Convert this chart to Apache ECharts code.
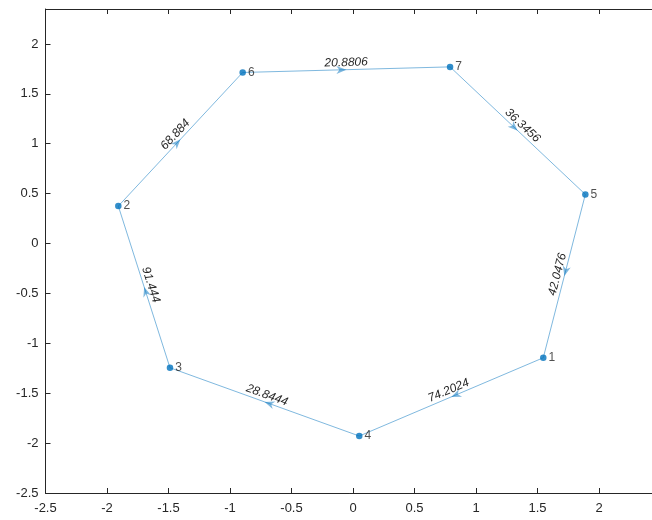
<!DOCTYPE html>
<html>
<head>
<meta charset="utf-8">
<script src="https://cdn.jsdelivr.net/npm/echarts@6/dist/echarts.min.js"></script>
<style>
  html, body { margin: 0; padding: 0; background: #fff; }
  #chart { width: 652px; height: 520px; }
</style>
</head>
<body>
<div id="chart"></div>
<script>
// Node layout of the directed weighted graph
const nodeNames = ['1', '2', '3', '4', '5', '6', '7'];
const nodeX = [1.547, -1.908, -1.488, 0.051, 1.889, -0.897, 0.789];
const nodeY = [-1.145, 0.375, -1.245, -1.929, 0.492, 1.714, 1.770];

// Directed edges (node names) and their weights
const edgeSource = ['6', '7', '5', '1', '4', '3', '2'];
const edgeTarget = ['7', '5', '1', '4', '3', '2', '6'];
const edgeWeight = [20.8806, 36.3456, 42.0476, 74.2024, 28.8444, 91.444, 68.884];

// Axis settings
const xMin = -2.5, xMax = 2.5;
const yMin = -2.5, yMax = 2.35;
const tickStep = 0.5;

const FONT = "'Liberation Sans', Arial, Helvetica, sans-serif";
const AXIS_COLOR = '#262626';
const NODE_COLOR = '#0072BD';
const EDGE_COLOR = 'rgba(0,114,189,0.5)';

const idx = name => nodeNames.indexOf(name);

const edgeData = edgeSource.map((s, i) => {
  const a = idx(s), b = idx(edgeTarget[i]);
  return [nodeX[a], nodeY[a], nodeX[b], nodeY[b], edgeWeight[i]];
});

const nodeData = nodeNames.map((n, i) => ({ name: n, value: [nodeX[i], nodeY[i]] }));

function tickLabel(v) {
  const k = Math.round(v / tickStep);
  if (Math.abs(k * tickStep - v) > 1e-6) return '';
  return String(Math.round(v * 10) / 10);
}

function renderEdge(params, api) {
  const p1 = api.coord([api.value(0), api.value(1)]);
  const p2 = api.coord([api.value(2), api.value(3)]);
  const w = api.value(4);
  const dx = p2[0] - p1[0], dy = p2[1] - p1[1];
  const len = Math.sqrt(dx * dx + dy * dy);
  const ux = dx / len, uy = dy / len;
  const nx = -uy, ny = ux;
  const mx = (p1[0] + p2[0]) / 2, my = (p1[1] + p2[1]) / 2;

  // arrowhead pointing along the edge, tip at the midpoint
  const L = 10, H = 4, N = 7;
  const bx = mx - ux * L, by = my - uy * L;
  const arrow = [
    [mx, my],
    [bx + nx * H, by + ny * H],
    [mx - ux * N, my - uy * N],
    [bx - nx * H, by - ny * H]
  ];

  // label angle kept readable left-to-right
  let t = Math.atan2(dy, dx);
  if (t > Math.PI / 2) t -= Math.PI;
  if (t < -Math.PI / 2) t += Math.PI;

  return {
    type: 'group',
    children: [
      {
        type: 'line',
        shape: { x1: p1[0], y1: p1[1], x2: p2[0], y2: p2[1] },
        style: { stroke: EDGE_COLOR, lineWidth: 1 }
      },
      {
        type: 'polygon',
        shape: { points: arrow },
        style: { fill: EDGE_COLOR, stroke: null }
      },
      {
        type: 'text',
        x: mx, y: my,
        rotation: -t,
        style: {
          text: String(w),
          x: 0, y: -1,
          align: 'center',
          verticalAlign: 'bottom',
          fill: '#262626',
          fontSize: 12,
          fontStyle: 'italic',
          fontFamily: FONT
        }
      }
    ]
  };
}

const chart = echarts.init(document.getElementById('chart'), null, { renderer: 'canvas' });

const axisCommon = {
  type: 'value',
  interval: tickStep,
  splitLine: { show: false },
  axisLine: { show: true, onZero: false, lineStyle: { color: AXIS_COLOR, width: 1 } },
  axisTick: { show: true, inside: true, length: 5, lineStyle: { color: AXIS_COLOR, width: 1 } }
};

chart.setOption({
  animation: false,
  backgroundColor: '#ffffff',
  textStyle: { fontFamily: FONT },
  grid: { left: 45.5, top: 9, right: -8.5, bottom: 27, containLabel: false, outerBoundsMode: 'none' },
  xAxis: [
    Object.assign({}, axisCommon, {
      min: xMin, max: xMax, position: 'bottom',
      axisLabel: { color: AXIS_COLOR, fontSize: 13, margin: 9, fontFamily: FONT, formatter: tickLabel }
    }),
    Object.assign({}, axisCommon, {
      min: xMin, max: xMax, position: 'top',
      axisLabel: { show: false }
    })
  ],
  yAxis: [
    Object.assign({}, axisCommon, {
      min: yMin, max: yMax, position: 'left',
      axisLabel: { color: AXIS_COLOR, fontSize: 13, margin: 7, fontFamily: FONT, formatter: tickLabel, showMaxLabel: false }
    })
  ],
  series: [
    {
      type: 'custom',
      xAxisIndex: 0, yAxisIndex: 0,
      renderItem: renderEdge,
      encode: { x: [0, 2], y: [1, 3] },
      data: edgeData,
      z: 1,
      silent: true
    },
    {
      type: 'scatter',
      xAxisIndex: 0, yAxisIndex: 0,
      symbol: 'circle',
      symbolSize: 6.5,
      itemStyle: { color: NODE_COLOR },
      label: {
        show: true,
        position: 'right',
        distance: 2,
        formatter: p => p.name,
        color: '#262626',
        fontSize: 12,
        fontFamily: FONT
      },
      data: nodeData,
      z: 2
    }
  ]
});
</script>
</body>
</html>
